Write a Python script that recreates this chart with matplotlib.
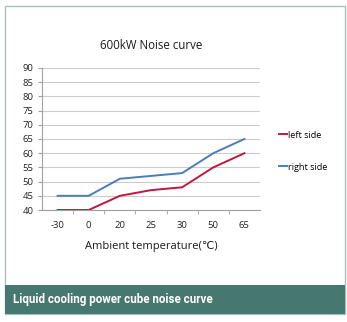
import numpy as np
import matplotlib.pyplot as plt
from matplotlib.patches import Rectangle

# Noise levels (dB) at each ambient temperature
temps = ["-30", "0", "20", "25", "30", "50", "65"]
left_side = [40, 40, 45, 47, 48, 55, 60]
right_side = [45, 45, 51, 52, 53, 60, 65]

W, H = 347, 322
fig = plt.figure(figsize=(W / 100, H / 100), dpi=100)
plt.rcParams['font.family'] = ['Open Sans', 'DejaVu Sans']

# frame and caption band
fig.patches.append(Rectangle((5 / W, 1 - 314 / H), 340 / W, 308 / H, transform=fig.transFigure,
                             facecolor='white', edgecolor='#a9c2be', lw=1.0, zorder=-2))
fig.patches.append(Rectangle((5 / W, 1 - 314 / H), 340 / W, 29 / H, transform=fig.transFigure,
                             facecolor='#477870', edgecolor='none', zorder=-1))
fig.text(13 / W, 1 - 299 / H, "Liquid cooling power cube noise curve", color='white',
         fontsize=8.4, fontweight='bold', va='center', ha='left', family=['Roboto', 'DejaVu Sans'])

ax = fig.add_axes([42 / W, 1 - 210 / H, 218 / W, 142 / H])
ax.patch.set_alpha(0)
x = np.arange(len(temps))
ax.plot(x, right_side, color='#4a7cc0', lw=1.4, label='right side')
ax.plot(x, left_side, color='#c0173e', lw=1.4, label='left side')

ax.set_xlim(-0.5, len(temps) - 0.5)
ax.set_ylim(40, 90)
ax.set_yticks(np.arange(40, 91, 5))
ax.set_xticks(x)
ax.set_xticklabels(temps)
ax.set_xticks(np.arange(0.5, len(temps) - 0.5, 1), minor=True)
ax.tick_params(axis='x', which='major', length=0, pad=8, labelsize=6.8, colors='#222222')
ax.tick_params(axis='x', which='minor', length=3, color='#a0a0a0')
ax.tick_params(axis='y', length=3, color='#a0a0a0', labelsize=6.8, labelcolor='#222222', pad=3)
ax.grid(axis='y', color='#cccccc', lw=0.8)
for s in ['top', 'right']:
    ax.spines[s].set_visible(False)
for s in ['left', 'bottom']:
    ax.spines[s].set_color('#a0a0a0')
    ax.spines[s].set_linewidth(0.8)

ax.set_title("600kW Noise curve", fontsize=8.3, color='#1a1a1a', pad=14)
ax.set_xlabel("Ambient temperature(\u2103)", fontsize=8, color='#1a1a1a', labelpad=8)

h, l = ax.get_legend_handles_labels()
fig.legend(h[::-1], l[::-1], loc='upper left', bbox_to_anchor=(274 / W, 1 - 126 / H),
           frameon=False, fontsize=6.6, handlelength=0.9, handletextpad=0.1,
           labelspacing=2.5, borderpad=0)

fig.savefig("out.png", dpi=100)
